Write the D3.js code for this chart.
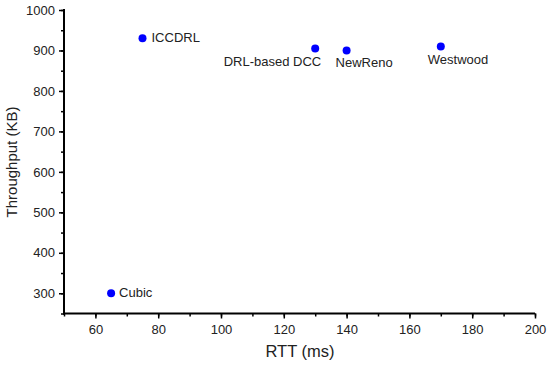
<!DOCTYPE html>
<html>
<head>
<meta charset="utf-8">
<script src="https://cdn.jsdelivr.net/npm/d3@7"></script>
<style>
  body { margin: 0; background: #fff; }
  text { font-family: "Liberation Sans", Arial, sans-serif; fill: #222; }
</style>
</head>
<body>
<div id="chart"></div>
<script>
var names = ["ICCDRL", "DRL-based DCC", "NewReno", "Westwood", "Cubic"];
var rtt = [75, 130, 140, 170, 65];
var throughput = [930, 905, 900, 910, 300];
var xTicks = [60, 80, 100, 120, 140, 160, 180, 200];
var yTicks = [300, 400, 500, 600, 700, 800, 900, 1000];
// label placement relative to point: [dx, dy, anchor]
var labelPos = [[9, 4, "start"], [6, 18, "end"], [-11, 17, "start"], [-13, 18, "start"], [8, 4, "start"]];

var width = 550, height = 366;
var svg = d3.select("#chart").append("svg")
    .attr("width", width)
    .attr("height", height);

var x = d3.scaleLinear().domain([50, 200]).range([64, 535]);
var y = d3.scaleLinear().domain([250, 1000]).range([313.5, 10]);

var data = names.map(function(n, i) {
    return {name: n, x: rtt[i], y: throughput[i], pos: labelPos[i]};
});

// minor ticks
svg.append("g")
    .attr("transform", "translate(0," + 313.5 + ")")
    .call(d3.axisBottom(x).tickValues(d3.range(50, 201, 10)).tickSize(3).tickFormat(""))
    .call(function(g) { g.select(".domain").remove(); })
    .selectAll("line").attr("stroke", "#000").attr("stroke-width", 1.5);
svg.append("g")
    .attr("transform", "translate(" + 64 + ",0)")
    .call(d3.axisLeft(y).tickValues(d3.range(250, 1001, 50)).tickSize(3).tickFormat(""))
    .call(function(g) { g.select(".domain").remove(); })
    .selectAll("line").attr("stroke", "#000").attr("stroke-width", 1.5);

var xAxis = svg.append("g")
    .attr("transform", "translate(0," + 313.5 + ")")
    .call(d3.axisBottom(x).tickValues(xTicks).tickFormat(d3.format("d")).tickSize(5).tickSizeOuter(0).tickPadding(6));
var yAxis = svg.append("g")
    .attr("transform", "translate(" + 64 + ",0)")
    .call(d3.axisLeft(y).tickValues(yTicks).tickFormat(d3.format("d")).tickSize(5).tickSizeOuter(0).tickPadding(4));

[xAxis, yAxis].forEach(function(g) {
    g.select(".domain").attr("stroke", "#000").attr("stroke-width", 2);
    g.selectAll(".tick line").attr("stroke", "#000").attr("stroke-width", 1.5);
    g.selectAll(".tick text")
        .attr("fill", "#222")
        .style("font-family", "Liberation Sans, Arial, sans-serif")
        .style("font-size", "13px");
});
// extend domain lines to meet at corner
xAxis.select(".domain").attr("d", "M63," + 0 + "H535");
yAxis.select(".domain").attr("d", "M0,314.5V9");

svg.selectAll(".pt")
    .data(data)
    .enter()
    .append("circle")
    .attr("class", "pt")
    .attr("cx", function(d) { return x(d.x); })
    .attr("cy", function(d) { return y(d.y); })
    .attr("r", 4)
    .attr("fill", "#0000ff");

svg.selectAll(".lbl")
    .data(data)
    .enter()
    .append("text")
    .attr("class", "lbl")
    .attr("x", function(d) { return x(d.x) + d.pos[0]; })
    .attr("y", function(d) { return y(d.y) + d.pos[1]; })
    .attr("text-anchor", function(d) { return d.pos[2]; })
    .style("font-size", "13px")
    .text(function(d) { return d.name; });

svg.append("text")
    .attr("x", 300)
    .attr("y", 357)
    .attr("text-anchor", "middle")
    .style("font-size", "16.5px")
    .text("RTT (ms)");

svg.append("text")
    .attr("transform", "translate(17," + 162 + ") rotate(-90)")
    .attr("text-anchor", "middle")
    .style("font-size", "15px")
    .text("Throughput (KB)");
</script>
</body>
</html>
